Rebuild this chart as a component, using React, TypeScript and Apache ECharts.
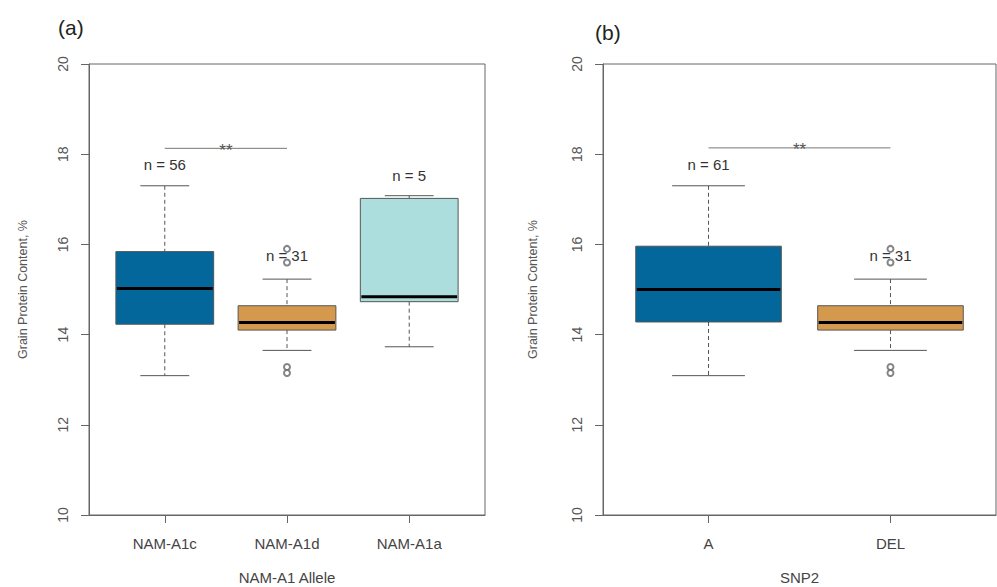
import React, { useEffect, useRef } from "react";
import * as echarts from "echarts";

// ---------- data ----------
const leftCategories = ["NAM-A1c", "NAM-A1d", "NAM-A1a"];
// [lower whisker, Q1, median, Q3, upper whisker]
const leftStats = [
  [13.09, 14.23, 15.02, 15.84, 17.3],
  [13.65, 14.1, 14.27, 14.64, 15.23],
  [13.73, 14.73, 14.84, 17.02, 17.08],
];
const leftOutliers = [
  [2, 15.9],
  [2, 15.6],
  [2, 13.28],
  [2, 13.15],
];
const leftCounts = ["n = 56", "n = 31", "n = 5"];
const leftCountY = [17.78, 15.76, 17.53];
const leftSig = [[1, 2, 18.13, "**"]];

const rightCategories = ["A", "DEL"];
const rightStats = [
  [13.09, 14.28, 15.0, 15.96, 17.3],
  [13.65, 14.1, 14.27, 14.64, 15.23],
];
const rightOutliers = [
  [2, 15.9],
  [2, 15.6],
  [2, 13.28],
  [2, 13.15],
];
const rightCounts = ["n = 61", "n = 31"];
const rightCountY = [17.78, 15.76];
const rightSig = [[1, 2, 18.14, "**"]];

const yTicks = [10, 12, 14, 16, 18, 20];
const leftColors = ["#03679b", "#d4994c", "#acdedd"];
const rightColors = ["#03679b", "#d4994c"];

const FONT = "Liberation Sans, Arial, sans-serif";
const BORDER = "#666";

function boxRenderer(colors: string[]) {
  return (params: any, api: any) => {
    const x = api.value(0);
    const lo = api.coord([x, api.value(1)]);
    const q1 = api.coord([x, api.value(2)]);
    const med = api.coord([x, api.value(3)]);
    const q3 = api.coord([x, api.value(4)]);
    const hi = api.coord([x, api.value(5)]);
    const w = api.size([0.8, 0])[0];
    const cw = api.size([0.4, 0])[0];
    const cx = med[0];
    const dash = { stroke: "#555", lineWidth: 1, lineDash: [4, 3] };
    const solid = { stroke: "#555", lineWidth: 1 };
    return {
      type: "group",
      children: [
        { type: "line", shape: { x1: cx, y1: hi[1], x2: cx, y2: q3[1] }, style: dash },
        { type: "line", shape: { x1: cx, y1: q1[1], x2: cx, y2: lo[1] }, style: dash },
        { type: "line", shape: { x1: cx - cw / 2, y1: hi[1], x2: cx + cw / 2, y2: hi[1] }, style: solid },
        { type: "line", shape: { x1: cx - cw / 2, y1: lo[1], x2: cx + cw / 2, y2: lo[1] }, style: solid },
        {
          type: "rect",
          shape: { x: cx - w / 2, y: q3[1], width: w, height: q1[1] - q3[1] },
          style: { fill: colors[params.dataIndex], stroke: "#555", lineWidth: 1 },
        },
        {
          type: "line",
          shape: { x1: cx - w / 2 + 1, y1: med[1], x2: cx + w / 2 - 1, y2: med[1] },
          style: { stroke: "#000", lineWidth: 3 },
        },
      ],
    };
  };
}

function textRenderer(params: any, api: any) {
  const p = api.coord([api.value(0), api.value(1)]);
  return {
    type: "text",
    x: p[0],
    y: p[1],
    style: {
      text: api.value(2),
      fill: "#333",
      font: `15px ${FONT}`,
      align: "center",
      verticalAlign: "middle",
    },
  };
}

function sigRenderer(params: any, api: any) {
  const a = api.coord([api.value(0), api.value(2)]);
  const b = api.coord([api.value(1), api.value(2)]);
  return {
    type: "group",
    children: [
      { type: "line", shape: { x1: a[0], y1: a[1], x2: b[0], y2: b[1] }, style: { stroke: "#777", lineWidth: 1 } },
      {
        type: "text",
        x: (a[0] + b[0]) / 2,
        y: a[1] + 2,
        style: {
          text: api.value(3),
          fill: "#555",
          font: `17px ${FONT}`,
          align: "center",
          verticalAlign: "middle",
        },
      },
    ],
  };
}

function xAxisFor(cats: string[], gridIndex: number, name: string) {
  const n = cats.length;
  const pad = n * 0.04;
  const vals = cats.map((_, i) => i + 1);
  return {
    type: "value",
    gridIndex,
    min: 0.5 - pad,
    max: n + 0.5 + pad,
    name,
    nameLocation: "middle",
    nameGap: 55,
    nameTextStyle: { fontSize: 15, color: "#444", fontFamily: FONT },
    axisLine: { show: true, lineStyle: { color: BORDER } },
    axisTick: { show: true, inside: false, length: 8, customValues: vals, lineStyle: { color: BORDER } },
    axisLabel: {
      show: true,
      customValues: vals,
      margin: 21,
      fontSize: 15,
      color: "#444",
      fontFamily: FONT,
      formatter: (v: number) => cats[Math.round(v) - 1] ?? "",
    },
    splitLine: { show: false },
  };
}

function yAxisFor(gridIndex: number, nameGap: number) {
  return {
    type: "value",
    gridIndex,
    min: yTicks[0],
    max: yTicks[yTicks.length - 1],
    interval: yTicks[1] - yTicks[0],
    name: "Grain Protein Content, %",
    nameLocation: "middle",
    nameRotate: 90,
    nameGap,
    nameTextStyle: { fontSize: 12.5, color: "#555", fontFamily: FONT },
    axisLine: { show: true, lineStyle: { color: BORDER } },
    axisTick: { show: true, inside: false, length: 8, lineStyle: { color: BORDER } },
    axisLabel: { rotate: 90, margin: 19, fontSize: 14, color: "#555", fontFamily: FONT },
    splitLine: { show: false },
  };
}

export default function App() {
  const ref = useRef<HTMLDivElement>(null);
  useEffect(() => {
    if (!ref.current) return;
    const chart = echarts.init(ref.current, null, { renderer: "svg" });
    const gridBase = {
      show: true,
      borderColor: BORDER,
      borderWidth: 1,
      backgroundColor: "transparent",
      containLabel: false,
      outerBoundsMode: "none",
    };
    const option: any = {
      animation: false,
      backgroundColor: "#fff",
      textStyle: { fontFamily: FONT },
      title: [
        { text: "(a)", left: 53, top: 12, textStyle: { fontSize: 21, fontWeight: "normal", color: "#222", fontFamily: FONT } },
        { text: "(b)", left: 590, top: 17, textStyle: { fontSize: 21, fontWeight: "normal", color: "#222", fontFamily: FONT } },
      ],
      grid: [
        { ...gridBase, left: 89, top: 64, width: 396, height: 451 },
        { ...gridBase, left: 603, top: 64, width: 393, height: 451 },
      ],
      xAxis: [xAxisFor(leftCategories, 0, "NAM-A1 Allele"), xAxisFor(rightCategories, 1, "SNP2")],
      yAxis: [yAxisFor(0, 60), yAxisFor(1, 64)],
      series: [
        {
          type: "custom",
          xAxisIndex: 0,
          yAxisIndex: 0,
          renderItem: boxRenderer(leftColors),
          encode: { x: 0, y: [1, 2, 3, 4, 5] },
          data: leftStats.map((s, i) => [i + 1, ...s]),
          z: 2,
        },
        {
          type: "scatter",
          xAxisIndex: 0,
          yAxisIndex: 0,
          symbol: "emptyCircle",
          symbolSize: 6,
          itemStyle: { color: "#666", borderColor: "#666", borderWidth: 1 },
          data: leftOutliers,
          z: 3,
        },
        {
          type: "custom",
          xAxisIndex: 0,
          yAxisIndex: 0,
          renderItem: textRenderer,
          encode: { x: 0, y: 1 },
          data: leftCounts.map((t, i) => [i + 1, leftCountY[i], t]),
          z: 4,
        },
        {
          type: "custom",
          xAxisIndex: 0,
          yAxisIndex: 0,
          renderItem: sigRenderer,
          encode: { x: [0, 1], y: 2 },
          data: leftSig,
          z: 4,
        },
        {
          type: "custom",
          xAxisIndex: 1,
          yAxisIndex: 1,
          renderItem: boxRenderer(rightColors),
          encode: { x: 0, y: [1, 2, 3, 4, 5] },
          data: rightStats.map((s, i) => [i + 1, ...s]),
          z: 2,
        },
        {
          type: "scatter",
          xAxisIndex: 1,
          yAxisIndex: 1,
          symbol: "emptyCircle",
          symbolSize: 6,
          itemStyle: { color: "#666", borderColor: "#666", borderWidth: 1 },
          data: rightOutliers,
          z: 3,
        },
        {
          type: "custom",
          xAxisIndex: 1,
          yAxisIndex: 1,
          renderItem: textRenderer,
          encode: { x: 0, y: 1 },
          data: rightCounts.map((t, i) => [i + 1, rightCountY[i], t]),
          z: 4,
        },
        {
          type: "custom",
          xAxisIndex: 1,
          yAxisIndex: 1,
          renderItem: sigRenderer,
          encode: { x: [0, 1], y: 2 },
          data: rightSig,
          z: 4,
        },
      ],
    };
    chart.setOption(option);
    return () => chart.dispose();
  }, []);
  return (
    <div
      ref={ref}
      style={{ position: "absolute", left: 0, top: 0, width: 997, height: 587, background: "#fff" }}
    />
  );
}
